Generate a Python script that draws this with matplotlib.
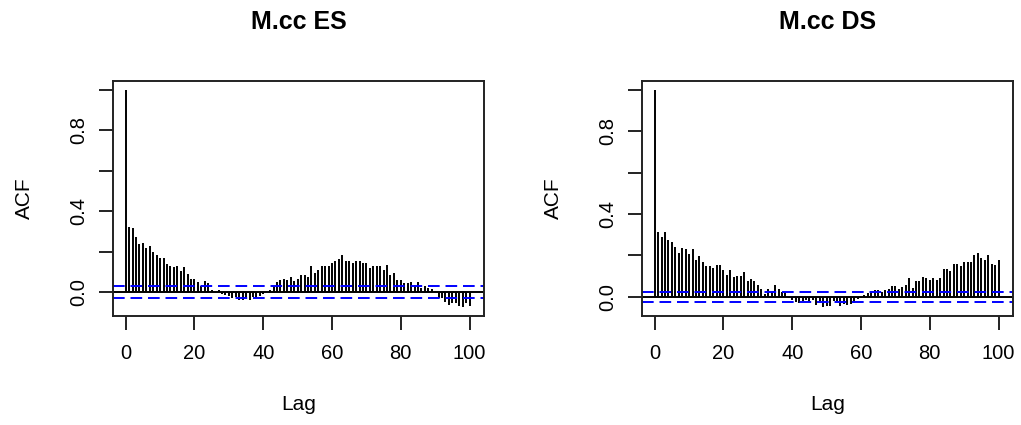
import numpy as np
import matplotlib
matplotlib.use("Agg")
import matplotlib.pyplot as plt

plt.rcParams['font.family'] = ['Liberation Sans', 'DejaVu Sans']

# sample autocorrelations, lags 0..100
es_acf = [
    1.0, 0.323, 0.315, 0.270, 0.236, 0.244, 0.216, 0.228, 0.200, 0.184,
    0.167, 0.167, 0.139, 0.130, 0.123, 0.131, 0.105, 0.123, 0.089, 0.064,
    0.064, 0.052, 0.031, 0.054, 0.044, 0.011, 0.002, 0.008, -0.010, -0.013,
    -0.020, -0.030, -0.025, -0.038, -0.040, -0.030, -0.038, -0.025, -0.030, -0.020,
    -0.010, 0.000, 0.011, 0.028, 0.048, 0.060, 0.064, 0.060, 0.075, 0.055,
    0.067, 0.087, 0.087, 0.075, 0.128, 0.095, 0.111, 0.130, 0.130, 0.130,
    0.146, 0.154, 0.166, 0.182, 0.154, 0.154, 0.146, 0.154, 0.154, 0.146,
    0.146, 0.120, 0.130, 0.130, 0.130, 0.111, 0.133, 0.084, 0.095, 0.059,
    0.059, 0.043, 0.043, 0.050, 0.034, 0.050, 0.018, 0.030, 0.018, 0.013,
    0.005, -0.030, -0.030, -0.048, -0.064, -0.056, -0.056, -0.069, -0.075, -0.052,
    -0.069,
]
ds_acf = [
    1.0, 0.313, 0.290, 0.314, 0.273, 0.265, 0.241, 0.214, 0.238, 0.230,
    0.206, 0.230, 0.179, 0.198, 0.167, 0.148, 0.148, 0.140, 0.156, 0.156,
    0.130, 0.106, 0.130, 0.095, 0.103, 0.103, 0.122, 0.079, 0.087, 0.079,
    0.056, 0.037, 0.016, 0.037, 0.024, 0.056, 0.037, 0.024, 0.024, -0.005,
    -0.016, -0.024, -0.027, -0.020, -0.016, -0.024, -0.016, -0.040, -0.027, -0.050,
    -0.046, -0.046, -0.019, -0.019, -0.046, -0.035, -0.040, -0.035, -0.027, -0.011,
    -0.003, 0.008, 0.020, 0.024, 0.033, 0.033, 0.024, 0.033, 0.040, 0.052,
    0.052, 0.040, 0.049, 0.057, 0.092, 0.041, 0.076, 0.076, 0.097, 0.092,
    0.084, 0.092, 0.084, 0.092, 0.135, 0.135, 0.127, 0.160, 0.160, 0.151,
    0.168, 0.168, 0.168, 0.203, 0.211, 0.187, 0.176, 0.203, 0.160, 0.152,
    0.176,
]
es_clim = 0.031
ds_clim = 0.026

titles = ["M.cc ES", "M.cc DS"]

W, H = 1021, 425
fig = plt.figure(figsize=(W / 100, H / 100), dpi=100)


def px_box(x0, y0, x1, y1):
    return [x0 / W, 1 - y1 / H, (x1 - x0) / W, (y1 - y0) / H]


def acf_panel(left, acf, clim, title):
    ax = fig.add_axes(px_box(left, 81, left + 371, 316))
    acf = np.asarray(acf)
    lags = np.arange(len(acf))
    ax.vlines(lags, 0, acf, color='black', lw=1.4)
    ax.axhline(0, color='black', lw=1.4)
    for c in (clim, -clim):
        ax.axhline(c, color='#0000ff', lw=1.4, ls=(0, (6, 3)))

    # R-style 4% padding around the data range
    lo = min(acf.min(), -clim)
    hi = max(acf.max(), clim)
    pad = 0.04 * (hi - lo)
    ax.set_ylim(lo - pad, hi + pad)
    ax.set_xlim(-3.7, 104.2)

    ax.set_xticks([0, 20, 40, 60, 80, 100])
    ax.set_yticks(np.arange(0, 1.01, 0.2))
    ax.set_yticklabels(["0.0", "", "0.4", "", "0.8", ""])
    ax.tick_params(axis='both', length=10, width=1.4, labelsize=14.5, color='#222222')
    ax.tick_params(axis='x', pad=10)
    ax.tick_params(axis='y', pad=8, labelrotation=90)
    for lab in ax.get_yticklabels():
        lab.set_va('center')
    for s in ax.spines.values():
        s.set_linewidth(1.4)
        s.set_color('#222222')

    cx = left + 371 / 2
    fig.text(cx / W, 1 - 22 / H, title, ha='center', va='center',
             fontsize=18, fontweight='bold')
    fig.text(cx / W, 1 - 404 / H, "Lag", ha='center', va='center', fontsize=15)
    fig.text((left - 89) / W, 1 - 198 / H, "ACF", ha='center', va='center',
             fontsize=15, rotation=90)
    return ax


acf_panel(113, es_acf, es_clim, titles[0])
acf_panel(642, ds_acf, ds_clim, titles[1])

fig.savefig("out.png", dpi=100)
